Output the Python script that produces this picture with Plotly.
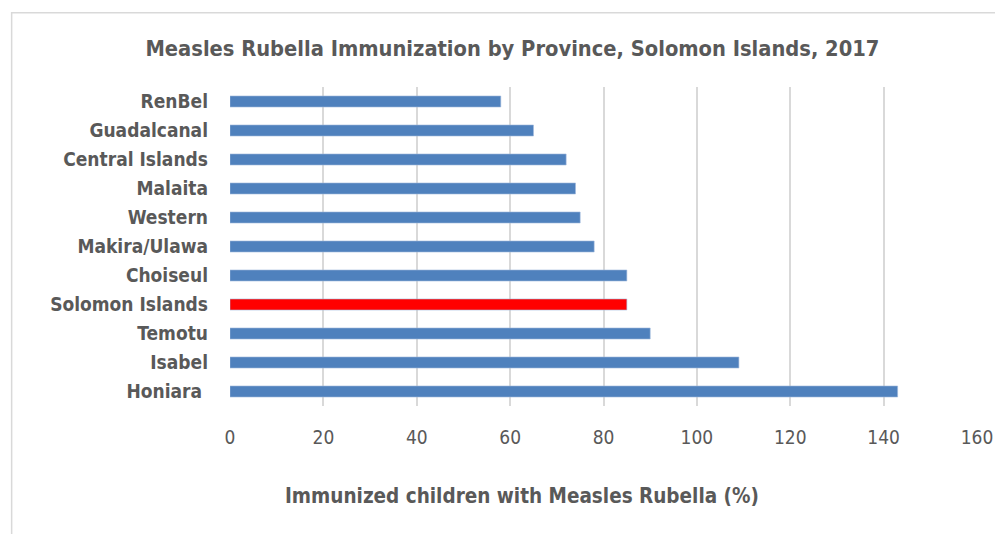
import plotly.graph_objects as go

# Province coverage, listed top to bottom
provinces = ["RenBel", "Guadalcanal", "Central Islands", "Malaita", "Western",
             "Makira/Ulawa", "Choiseul", "Solomon Islands", "Temotu", "Isabel", "Honiara "]
coverage = [58, 65, 72, 74, 75, 78, 85, 85, 90, 109, 143]
x_ticks = [0, 20, 40, 60, 80, 100, 120, 140, 160]

BLUE = "#4F81BD"
RED = "#FF0000"
TEXT = "#595959"
FONT = "Liberation Sans Narrow, Arial Narrow, DejaVu Sans Condensed, sans-serif"

colors = [RED if p == "Solomon Islands" else BLUE for p in provinces]

fig = go.Figure(go.Bar(
    x=coverage,
    y=provinces,
    orientation="h",
    marker=dict(color=colors, line=dict(color="#9fb9dc", width=0.6)),
    width=0.38,
))

W, H = 995, 534
L, R, T, B = 229.5, 18, 86.5, 127.5
pw, ph = W - L - R, H - T - B

def px_x(x):
    return (x - L) / pw

def px_y(y):
    return 1 - (y - T) / ph

fig.update_layout(
    width=W, height=H,
    margin=dict(l=L, r=R, t=T, b=B, autoexpand=False),
    paper_bgcolor="white",
    plot_bgcolor="white",
    showlegend=False,
    title=dict(
        text="<b>Measles Rubella Immunization by Province, Solomon Islands, 2017</b>",
        x=0.515, xanchor="center", xref="container",
        y=1 - 48 / H, yanchor="middle", yref="container",
        font=dict(family=FONT, size=21.7, color=TEXT),
    ),
    xaxis=dict(
        range=[0, 160],
        tickvals=x_ticks,
        showgrid=True, gridcolor="#d9d9d9", gridwidth=1.5,
        zeroline=False, showline=False,
        tickfont=dict(family=FONT, size=19, color=TEXT),
        ticklabelstandoff=18,
        fixedrange=True,
    ),
    yaxis=dict(
        autorange="reversed",
        showgrid=False, zeroline=False, showline=False,
        tickfont=dict(family=FONT, size=19, color=TEXT),
        ticklabelstandoff=21,
        tickprefix="<b>", ticksuffix="</b>",
    ),
    annotations=[dict(
        text="<b>Immunized children with Measles Rubella (%)</b>",
        xref="paper", yref="paper",
        x=px_x(522), y=px_y(497),
        xanchor="center", yanchor="middle",
        showarrow=False,
        font=dict(family=FONT, size=20.5, color=TEXT),
    )],
    shapes=[dict(
        type="rect", xref="paper", yref="paper",
        x0=px_x(11), y0=px_y(560), x1=px_x(1010), y1=px_y(12),
        line=dict(color="#d9d9d9", width=1.5),
        fillcolor="rgba(0,0,0,0)", layer="below",
    )],
)

fig.write_html("out.html")
